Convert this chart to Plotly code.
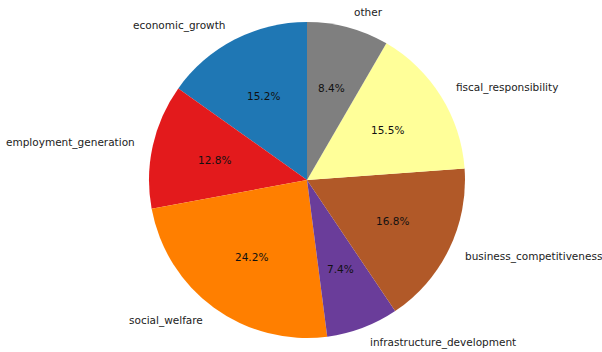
import math
import plotly.graph_objects as go

# Policy priority shares (percent)
categories = ["economic_growth", "employment_generation", "social_welfare",
              "infrastructure_development", "business_competitiveness",
              "fiscal_responsibility", "other"]
shares = [15.2, 12.8, 24.2, 7.4, 16.8, 15.5, 8.4]
colors = ["#1f77b4", "#e31a1c", "#ff7f00", "#6a3d9a", "#b15928", "#ffff99", "#7f7f7f"]

W, H = 602, 352
ML, MR, MT, MB = 12, 0, 22, 14
pw, ph = W - ML - MR, H - MT - MB
R = min(pw, ph) / 2

total = sum(shares)

# Plotly places the first counterclockwise slice ending at the rotation angle,
# so turn it back by that slice's span to have it start at 12 o'clock.
fig = go.Figure(go.Pie(
    labels=categories,
    values=shares,
    sort=False,
    direction="counterclockwise",
    rotation=-360.0 * shares[0] / total,
    marker=dict(colors=colors, line=dict(width=0)),
    textinfo="none",
    hoverinfo="label+value",
    showlegend=False,
))

# label positions: outer names at 1.1 r, percentages at 0.6 r, from mid-angle of each wedge
start = 90.0
annotations = []
for name, v in zip(categories, shares):
    span = 360.0 * v / total
    mid = math.radians(start + span / 2)
    start += span
    cx, cy = math.cos(mid), math.sin(mid)
    lx = 0.5 + 1.1 * R * cx / pw
    ly = 0.5 + 1.1 * R * cy / ph
    annotations.append(dict(
        x=lx, y=ly, xref="paper", yref="paper", text=name, showarrow=False,
        xanchor="right" if cx < 0 else "left", yanchor="middle",
        font=dict(family="DejaVu Sans", size=10.5, color="#222222"),
    ))
    px = 0.5 + 0.6 * R * cx / pw
    py = 0.5 + 0.6 * R * cy / ph
    annotations.append(dict(
        x=px, y=py, xref="paper", yref="paper", text=f"{v:.1f}%", showarrow=False,
        xanchor="center", yanchor="middle",
        font=dict(family="DejaVu Sans", size=10.5, color="#111111"),
    ))

fig.update_layout(
    width=W, height=H,
    margin=dict(l=ML, r=MR, t=MT, b=MB, autoexpand=False),
    paper_bgcolor="white", plot_bgcolor="white",
    annotations=annotations,
)

fig.write_html("out.html")
